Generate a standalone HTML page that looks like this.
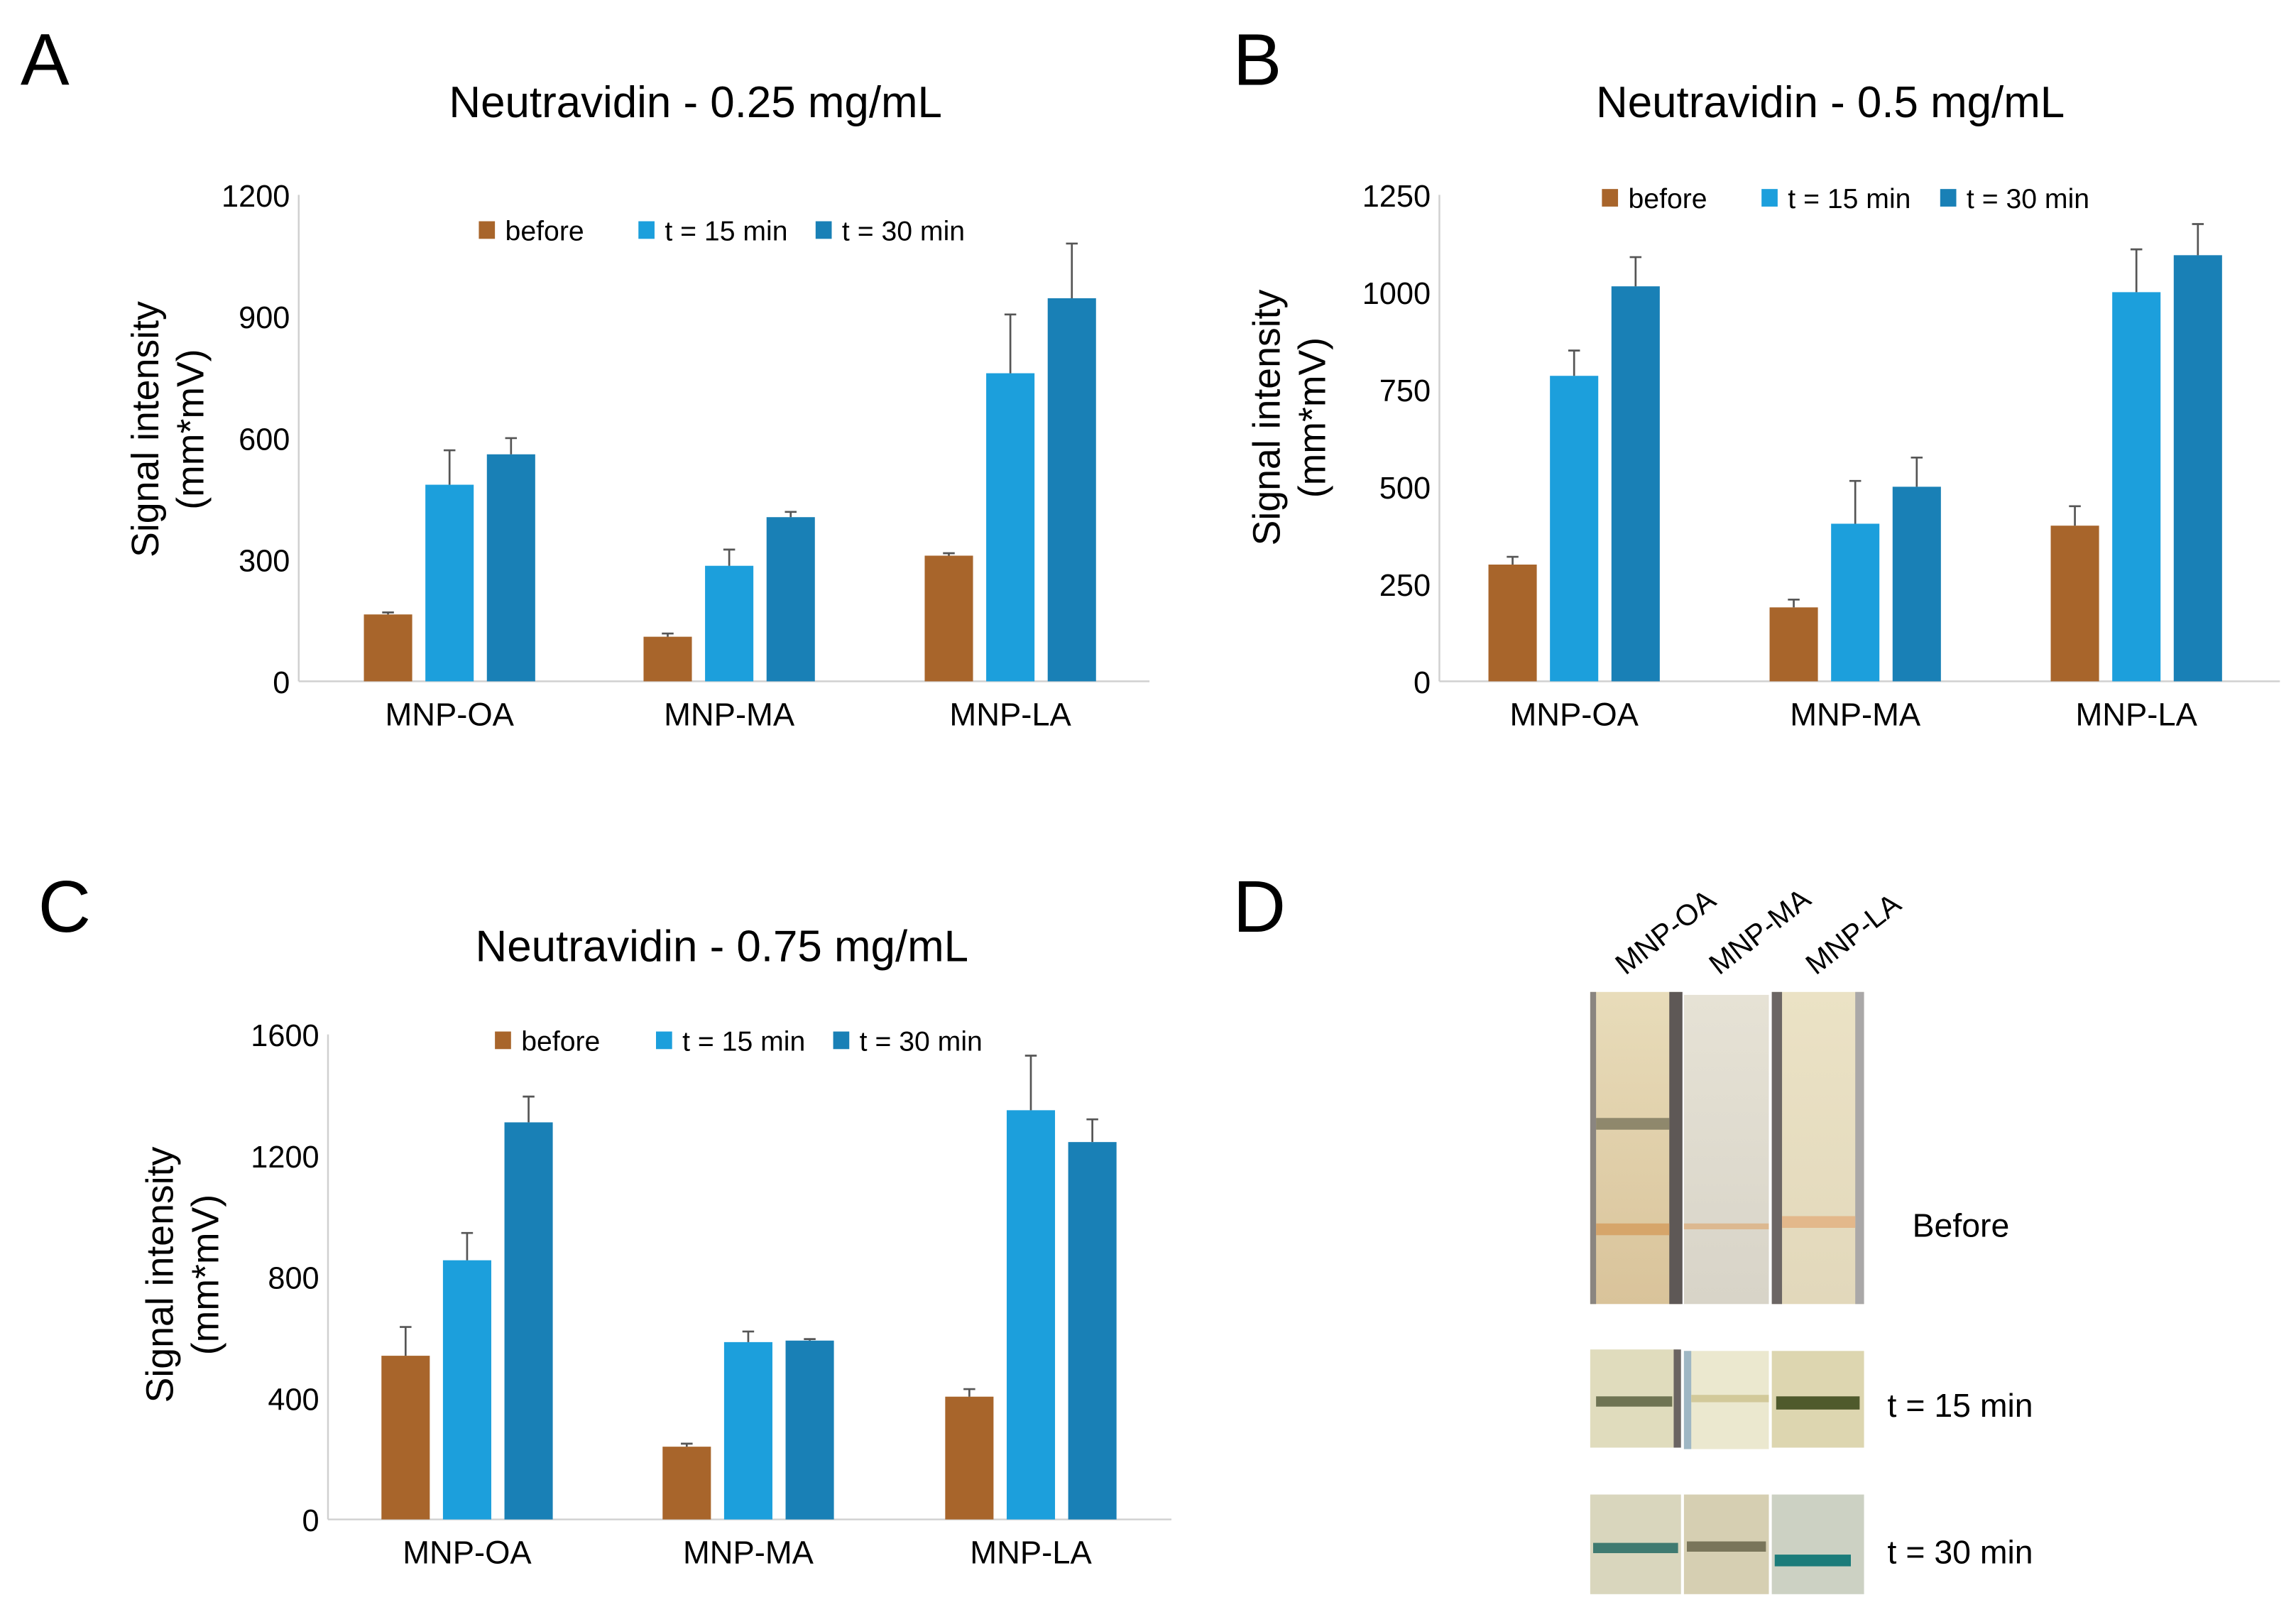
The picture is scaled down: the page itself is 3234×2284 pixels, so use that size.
<!DOCTYPE html>
<html><head><meta charset="utf-8"><style>
html,body{margin:0;padding:0;background:#fff}
svg{display:block;font-family:"Liberation Sans",Arial,sans-serif}
</style></head><body>
<svg id="fig" width="3234" height="2284" viewBox="0 0 1568 1107" preserveAspectRatio="none" xmlns="http://www.w3.org/2000/svg">
<text x="14" y="58" font-size="50">A</text>
<text x="842" y="58" font-size="50">B</text>
<text x="26" y="636" font-size="50">C</text>
<text x="842" y="636" font-size="50">D</text>
<g id="charts"></g>
<g id="panel-d">
  <defs>
    <linearGradient id="g1" x1="0" y1="0" x2="0" y2="1"><stop offset="0" stop-color="#e8dcba"/><stop offset="1" stop-color="#d9c39a"/></linearGradient>
    <linearGradient id="g2" x1="0" y1="0" x2="0" y2="1"><stop offset="0" stop-color="#e6e2d5"/><stop offset="1" stop-color="#d8d4c8"/></linearGradient>
    <linearGradient id="g3" x1="0" y1="0" x2="0" y2="1"><stop offset="0" stop-color="#ebe2c5"/><stop offset="1" stop-color="#e2d8bb"/></linearGradient>
  </defs>
  <rect x="1086" y="677" width="62" height="213" fill="url(#g1)"/>
  <rect x="1086" y="677" width="4" height="213" fill="#8a8580"/>
  <rect x="1140" y="677" width="9" height="213" fill="#5e5856"/>
  <rect x="1090" y="763" width="50" height="8" fill="#7b765c" opacity="0.8"/>
  <rect x="1090" y="835" width="50" height="8" fill="#d6a56a"/>
  <rect x="1150" y="679" width="58" height="211" fill="url(#g2)"/>
  <rect x="1150" y="835" width="58" height="4" fill="#dcb890"/>
  <rect x="1210" y="677" width="63" height="213" fill="url(#g3)"/>
  <rect x="1210" y="677" width="7" height="213" fill="#6c6664"/>
  <rect x="1267" y="677" width="6" height="213" fill="#aaa8a8"/>
  <rect x="1217" y="830" width="50" height="8" fill="#e3b88b"/>
  <rect x="1086" y="921" width="60" height="67" fill="#e0dcbd"/>
  <rect x="1143" y="921" width="5" height="67" fill="#6a6462"/>
  <rect x="1090" y="953" width="52" height="7" fill="#6f7453"/>
  <rect x="1150" y="922" width="58" height="67" fill="#ebe8cf"/>
  <rect x="1150" y="922" width="5" height="67" fill="#9fb7c4"/>
  <rect x="1155" y="952" width="53" height="5" fill="#d2c99a"/>
  <rect x="1210" y="922" width="63" height="66" fill="#ddd6b0"/>
  <rect x="1213" y="953" width="57" height="9" fill="#4f5a2c"/>
  <rect x="1086" y="1020" width="62" height="68" fill="#d9d6bd"/>
  <rect x="1088" y="1053" width="58" height="7" fill="#3f7a70"/>
  <rect x="1150" y="1020" width="58" height="68" fill="#d6cfb2"/>
  <rect x="1152" y="1052" width="54" height="7" fill="#79755a"/>
  <rect x="1210" y="1020" width="63" height="68" fill="#ccd1c3"/>
  <rect x="1212" y="1061" width="52" height="8" fill="#1b7c7a"/>
  <text transform="translate(1110,666) rotate(-38)" font-size="20">MNP-OA</text>
  <text transform="translate(1174,666) rotate(-38)" font-size="20">MNP-MA</text>
  <text transform="translate(1240,666) rotate(-38)" font-size="20">MNP-LA</text>
  <text x="1306" y="844" font-size="22.5">Before</text>
  <text x="1289" y="967" font-size="22.5">t = 15 min</text>
  <text x="1289" y="1067" font-size="22.5">t = 30 min</text>
</g>
</svg>
<script>
const categories = ["MNP-OA","MNP-MA","MNP-LA"];
const seriesNames = ["before","t = 15 min","t = 30 min"];
const aBefore = [165,110,310], aT15 = [485,285,760], aT30 = [560,405,945];
const aErrBefore = [5,8,6], aErrT15 = [85,40,145], aErrT30 = [40,13,135];
const aTicks = [0,300,600,900,1200];
const bBefore = [300,190,400], bT15 = [785,405,1000], bT30 = [1015,500,1095];
const bErrBefore = [20,20,50], bErrT15 = [65,110,110], bErrT30 = [75,75,80];
const bTicks = [0,250,500,750,1000,1250];
const cBefore = [540,240,405], cT15 = [855,585,1350], cT30 = [1310,590,1245];
const cErrBefore = [95,10,25], cErrT15 = [90,35,180], cErrT30 = [85,5,75];
const cTicks = [0,400,800,1200,1600];

const colors = ["#a8652b","#1c9fdc","#1980b6"];
const NS = "http://www.w3.org/2000/svg";
const root = document.getElementById("charts");
function mk(tag, attrs, parent){const e=document.createElementNS(NS,tag);for(const k in attrs)e.setAttribute(k,attrs[k]);(parent||root).appendChild(e);return e;}

function chart(id, cfg, vals, errs, ticks){
  const g = mk("g",{});
  
  
  const {x0,x1,yTop,yBot,title,titleX,titleY,legY,legX,ylX,ylY,groupCenters} = cfg;
  const max = ticks[ticks.length-1];
  const y = v => yBot - (v/max)*(yBot-yTop);
  const t = mk("text",{x:titleX,y:titleY,"font-size":30,"text-anchor":"middle"},g); t.textContent=title;
  
  
  const ax = mk("line",{x1:x0,y1:yTop,x2:x0,y2:yBot,stroke:"#d0d0d0","stroke-width":1.2},g);
  
  
  const bx = mk("line",{x1:x0,y1:yBot,x2:x1,y2:yBot,stroke:"#d0d0d0","stroke-width":1.2},g);
  
  
  ticks.forEach(tv=>{
    const tt = mk("text",{x:x0-6,y:y(tv)+8,"font-size":21,"text-anchor":"end"},g); tt.textContent=tv;
    
    
  });
  const yl = mk("text",{transform:`translate(${ylX},${ylY}) rotate(-90)`,"font-size":26,"text-anchor":"middle"},g);
  
  
  const s1 = mk("tspan",{x:0,y:0},yl); s1.textContent="Signal intensity";
  const s2 = mk("tspan",{x:0,y:31},yl); s2.textContent="(mm*mV)";
  const bw=33, step=42;
  categories.forEach((c,i)=>{
    const cx = groupCenters[i];
    const cl = mk("text",{x:cx,y:yBot+30,"font-size":22,"text-anchor":"middle"},g); cl.textContent=c;
    
    
    for(let s=0;s<3;s++){
      const bxp = cx + (s-1)*step - bw/2;
      const v = vals[s][i], e = errs[s][i];
      const r = mk("rect",{x:bxp,y:y(v),width:bw,height:yBot-y(v),fill:colors[s]},g);
      
      
      const ex = bxp+bw/2;
      const el = mk("path",{d:`M${ex},${y(v)}V${y(v+e)}M${ex-4},${y(v+e)}H${ex+4}`,stroke:"#555","stroke-width":1.3,fill:"none"},g);
      
      
    }
  });
  seriesNames.forEach((n,s)=>{
    const lx = legX[s];
    const sq = mk("rect",{x:lx,y:legY-6,width:11,height:12,fill:colors[s]},g);
    
    
    const lt = mk("text",{x:lx+18,y:legY+7,"font-size":19},g); lt.textContent=n;
    
    
  });
}
chart("chart-a",{x0:204,x1:785,yTop:133,yBot:465,title:"Neutravidin - 0.25 mg/mL",titleX:475,titleY:80,legY:157,legX:[327,436,557],ylX:108,ylY:293,groupCenters:[307,498,690]},
  [aBefore,aT15,aT30],[aErrBefore,aErrT15,aErrT30],aTicks);
chart("chart-b",{x0:983,x1:1557,yTop:133,yBot:465,title:"Neutravidin - 0.5 mg/mL",titleX:1250,titleY:80,legY:135,legX:[1094,1203,1325],ylX:874,ylY:285,groupCenters:[1075,1267,1459]},
  [bBefore,bT15,bT30],[bErrBefore,bErrT15,bErrT30],bTicks);
chart("chart-c",{x0:224,x1:800,yTop:706,yBot:1037,title:"Neutravidin - 0.75 mg/mL",titleX:493,titleY:656,legY:710,legX:[338,448,569],ylX:118,ylY:870,groupCenters:[319,511,704]},
  [cBefore,cT15,cT30],[cErrBefore,cErrT15,cErrT30],cTicks);
</script>
</body></html>
